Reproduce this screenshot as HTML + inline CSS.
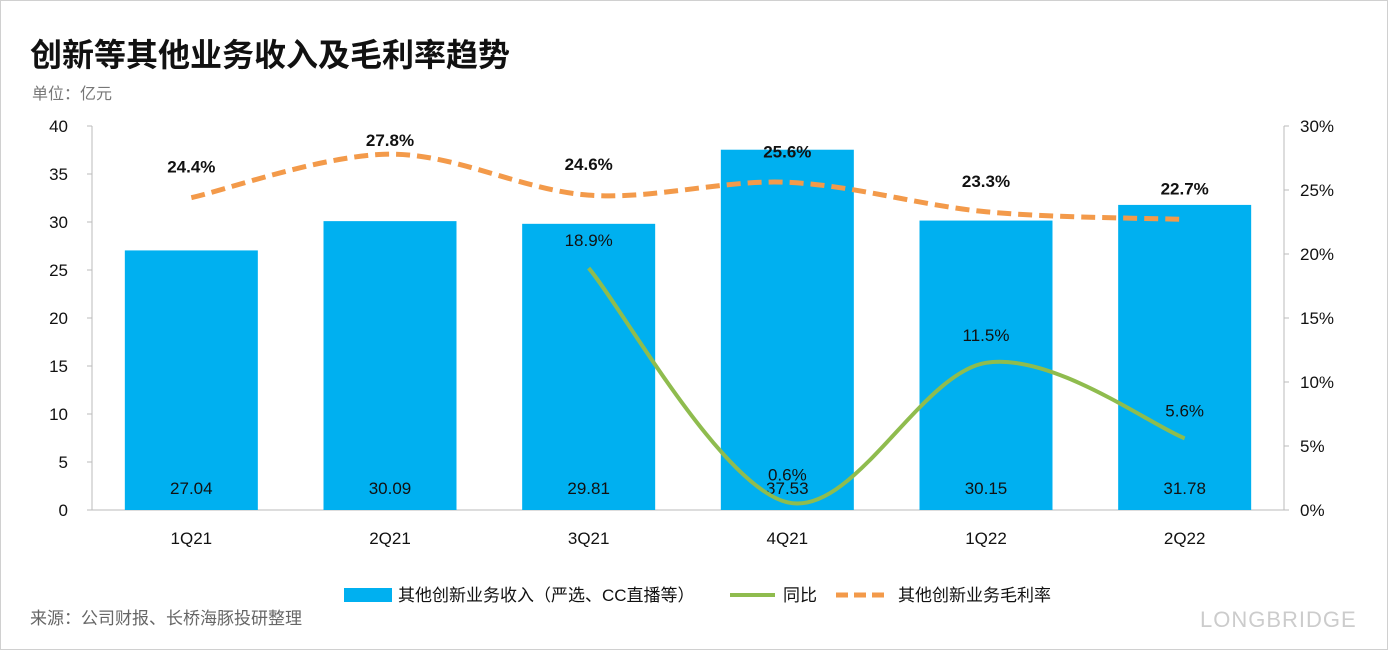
<!DOCTYPE html>
<html><head><meta charset="utf-8"><style>
body{margin:0;background:#fff;}
svg text{font-family:"Liberation Sans","Noto Sans CJK SC",sans-serif;}
</style></head><body>
<svg id="c" width="1388" height="650" xmlns="http://www.w3.org/2000/svg">
<rect x="0.5" y="0.5" width="1387" height="649" fill="#fff" stroke="#d0d0d0"/>
<text x="30" y="66" font-size="32" font-weight="bold" fill="#111">创新等其他业务收入及毛利率趋势</text>
<text x="32" y="99" font-size="16" fill="#777">单位：亿元</text>
<text x="30" y="624" font-size="17" fill="#666">来源：公司财报、长桥海豚投研整理</text>
<text x="1200" y="627" font-size="22" fill="#ccc" letter-spacing="1">LONGBRIDGE</text>
<g id="plot"></g>
<g id="legend">
<rect x="344" y="588" width="48" height="14" fill="#00b0f0"/>
<text x="398" y="601" font-size="17" fill="#111">其他创新业务收入（严选、CC直播等）</text>
<line x1="730" y1="595" x2="775" y2="595" stroke="#8fbc4e" stroke-width="4"/>
<text x="783" y="601" font-size="17" fill="#111">同比</text>
<line x1="836" y1="595" x2="890" y2="595" stroke="#f39a4a" stroke-width="5" stroke-dasharray="12,6"/>
<text x="898" y="601" font-size="17" fill="#111">其他创新业务毛利率</text>
</g>
</svg>
<script>
const categories=["1Q21","2Q21","3Q21","4Q21","1Q22","2Q22"];
const revenue=[27.04,30.09,29.81,37.53,30.15,31.78];
const yoy=[null,null,18.9,0.6,11.5,5.6];
const margin=[24.4,27.8,24.6,25.6,23.3,22.7];
const leftTicks=[0,5,10,15,20,25,30,35,40];
const rightTicks=[0,5,10,15,20,25,30];

const NS="http://www.w3.org/2000/svg";
const g=document.getElementById('plot');
const L=92,R=1284,T=126,B=510;
const band=(R-L)/categories.length;
const xc=i=>L+band*(i+0.5);
const yL=v=>B-(v/40)*(B-T);
const yR=v=>B-(v/30)*(B-T);
function mk(tag,attrs,txt){const e=document.createElementNS(NS,tag);for(const k in attrs)e.setAttribute(k,attrs[k]);if(txt!==undefined)e.textContent=txt;g.appendChild(e);return e;}

let ax=mk('line',{x1:L,y1:T,x2:L,y2:B,stroke:'#bbb'});


let ax2=mk('line',{x1:R,y1:T,x2:R,y2:B,stroke:'#bbb'});


let ax3=mk('line',{x1:L,y1:B,x2:R,y2:B,stroke:'#bbb'});



leftTicks.forEach(v=>{
 const t=mk('text',{x:68,y:yL(v)+6,'font-size':17,'text-anchor':'end',fill:'#111'},String(v));
 
 
 const k=mk('line',{x1:L-5,y1:yL(v),x2:L,y2:yL(v),stroke:'#bbb'});
 
 
});
rightTicks.forEach(v=>{
 const t=mk('text',{x:1300,y:yR(v)+6,'font-size':17,fill:'#111'},v+'%');
 
 
 const k=mk('line',{x1:R,y1:yR(v),x2:R+5,y2:yR(v),stroke:'#bbb'});
 
 
});
const bw=133;
categories.forEach((c,i)=>{
 const b=mk('rect',{x:xc(i)-bw/2,y:yL(revenue[i]),width:bw,height:B-yL(revenue[i]),fill:'#00b0f0'});
 
 
 const t=mk('text',{x:xc(i),y:494,'font-size':17,'text-anchor':'middle',fill:'#111'},revenue[i].toFixed(2));
 
 
 const xl=mk('text',{x:xc(i),y:544,'font-size':17,'text-anchor':'middle',fill:'#111'},c);
 
 
});
function smooth(pts){
 let d='M'+pts[0][0]+','+pts[0][1];
 for(let i=0;i<pts.length-1;i++){
  const p0=pts[i-1]||pts[i],p1=pts[i],p2=pts[i+1],p3=pts[i+2]||p2;
  const c1=[p1[0]+(p2[0]-p0[0])/6,p1[1]+(p2[1]-p0[1])/6];
  const c2=[p2[0]-(p3[0]-p1[0])/6,p2[1]-(p3[1]-p1[1])/6];
  d+=' C'+c1+' '+c2+' '+p2;
 }
 return d;
}
const mp=margin.map((v,i)=>[xc(i),yR(v)]);
const ml=mk('path',{d:smooth(mp),fill:'none',stroke:'#f39a4a','stroke-width':5,'stroke-dasharray':'14,7'});


margin.forEach((v,i)=>{
 const t=mk('text',{x:xc(i),y:Math.max(146,yR(v)-25),'font-size':17,'font-weight':'bold','text-anchor':'middle',fill:'#111'},v.toFixed(1)+'%');
 
 
});
const yp=[];yoy.forEach((v,i)=>{if(v!==null)yp.push([xc(i),yR(v)]);});
const yl=mk('path',{d:smooth(yp),fill:'none',stroke:'#8fbc4e','stroke-width':4});


yoy.forEach((v,i)=>{if(v===null)return;
 const t=mk('text',{x:xc(i),y:yR(v)-22,'font-size':17,'text-anchor':'middle',fill:'#111'},v.toFixed(1)+'%');
 
 
});
</script>
</body></html>
